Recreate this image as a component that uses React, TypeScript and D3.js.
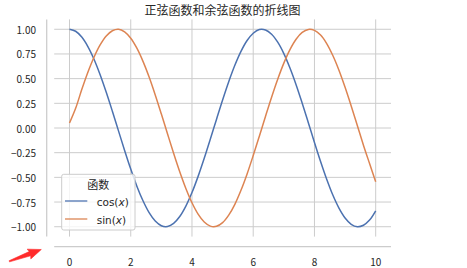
import React from "react";
import * as d3 from "d3";

const xValues = [0, 0.2, 0.4, 0.6, 0.8, 1, 1.2, 1.4, 1.6, 1.8, 2, 2.2, 2.4, 2.6, 2.8, 3, 3.2, 3.4, 3.6, 3.8, 4, 4.2, 4.4, 4.6, 4.8, 5, 5.2, 5.4, 5.6, 5.8, 6, 6.2, 6.4, 6.6, 6.8, 7, 7.2, 7.4, 7.6, 7.8, 8, 8.2, 8.4, 8.6, 8.8, 9, 9.2, 9.4, 9.6, 9.8, 10];
const cosValues = [1.0, 0.98, 0.921, 0.825, 0.697, 0.54, 0.362, 0.17, -0.029, -0.227, -0.416, -0.589, -0.737, -0.857, -0.942, -0.99, -0.998, -0.967, -0.897, -0.791, -0.654, -0.49, -0.307, -0.112, 0.087, 0.284, 0.469, 0.635, 0.776, 0.886, 0.96, 0.997, 0.993, 0.95, 0.869, 0.754, 0.608, 0.439, 0.251, 0.054, -0.146, -0.339, -0.519, -0.679, -0.811, -0.911, -0.975, -1.0, -0.985, -0.933, -0.839];
const sinValues = [0.05, 0.199, 0.389, 0.565, 0.717, 0.841, 0.932, 0.985, 1.0, 0.974, 0.909, 0.808, 0.675, 0.516, 0.335, 0.141, -0.058, -0.256, -0.443, -0.612, -0.757, -0.872, -0.952, -0.994, -0.996, -0.959, -0.883, -0.773, -0.631, -0.465, -0.279, -0.083, 0.117, 0.312, 0.494, 0.657, 0.794, 0.899, 0.968, 0.998, 0.989, 0.941, 0.855, 0.734, 0.585, 0.412, 0.223, 0.025, -0.174, -0.36, -0.544];
const xTicks = [0, 2, 4, 6, 8, 10];
const yTicks = [1, 0.75, 0.5, 0.25, 0, -0.25, -0.5, -0.75, -1];
const seriesNames = ["cos", "sin"];
const title = "正弦函数和余弦函数的折线图";
const legendTitle = "函数";

const W = 467;
const H = 268;
const colors = ["#4c72b0", "#dd8452"];
const grid = "#cccccc";
const textColor = "#262626";
const cjk = "'Noto Sans CJK SC', 'DejaVu Sans', sans-serif";

export default function App() {
  const x = d3.scaleLinear().domain([-0.5, 10.5]).range([54.2, 391]);
  const y = d3.scaleLinear().domain([-1.1, 1.1]).range([236.6, 19.4]);
  const [x0, x1] = x.range();
  const [yb, yt] = y.range();
  const leftSpineX = 46.7;
  const bottomSpineY = 246.7;

  const line = d3
    .line<[number, number]>()
    .x((d) => x(d[0]))
    .y((d) => y(d[1]))
    .curve(d3.curveCatmullRom);

  const series = [cosValues, sinValues].map((vals) =>
    xValues.map((xv, i) => [xv, vals[i]] as [number, number])
  );

  // arrow annotation geometry
  const T = [9.3, 261.3];
  const P = [41.3, 249.5];
  const dx = P[0] - T[0];
  const dy = P[1] - T[1];
  const L = Math.hypot(dx, dy);
  const u = [dx / L, dy / L];
  const n = [-u[1], u[0]];
  const pt = (s: number, w: number) =>
    `${T[0] + s * u[0] + w * n[0]},${T[1] + s * u[1] + w * n[1]}`;
  const hb = 22;
  const arrowPath = `M${pt(0, -0.6)} L${pt(hb, -2.2)} L${pt(hb - 1, -5.2)} L${pt(L, 0)} L${pt(hb - 1, 5.2)} L${pt(hb, 2.2)} L${pt(0, 0.6)} Z`;

  const legX = 61.7;
  const legY = 174.3;
  const legW = 73.3;
  const legH = 55.7;

  return (
    <svg width={W} height={H} style={{ position: "absolute", left: 0, top: 0, background: "#fff" }}>
      <rect x={0} y={0} width={W} height={H} fill="#fff" />
      {/* grid */}
      {xTicks.map((t) => (
        <line key={"gx" + t} x1={x(t)} x2={x(t)} y1={yt} y2={yb} stroke={grid} strokeWidth={1} />
      ))}
      {yTicks.map((t) => (
        <line key={"gy" + t} x1={x0} x2={x1} y1={y(t)} y2={y(t)} stroke={grid} strokeWidth={1} />
      ))}
      {/* spines */}
      <line x1={leftSpineX} x2={leftSpineX} y1={yt} y2={yb} stroke={grid} strokeWidth={1.25} />
      <line x1={x0} x2={x1} y1={bottomSpineY} y2={bottomSpineY} stroke={grid} strokeWidth={1.25} />
      {/* tick labels */}
      {yTicks.map((t) => (
        <text
          key={"ty" + t}
          x={36}
          y={y(t)}
          textAnchor="end"
          dominantBaseline="central"
          fontFamily={cjk}
          fontSize={10}
          fill={textColor}
        >
          {t < 0 ? "\u2212" + d3.format(".2f")(-t) : d3.format(".2f")(t)}
        </text>
      ))}
      {xTicks.map((t) => (
        <text
          key={"tx" + t}
          x={x(t)}
          y={261}
          textAnchor="middle"
          dominantBaseline="central"
          fontFamily={cjk}
          fontSize={10}
          fill={textColor}
        >
          {t}
        </text>
      ))}
      {/* lines */}
      {series.map((s, i) => (
        <path key={"s" + i} d={line(s) || ""} fill="none" stroke={colors[i]} strokeWidth={1.5} />
      ))}
      {/* title */}
      <text
        x={(x0 + x1) / 2}
        y={9.5}
        textAnchor="middle"
        dominantBaseline="central"
        fontFamily={cjk}
        fontSize={12}
        fill={textColor}
      >
        {title}
      </text>
      {/* legend */}
      <rect x={legX} y={legY} width={legW} height={legH} rx={2} fill="#fff" fillOpacity={0.8} stroke={grid} strokeWidth={1} />
      <text
        x={legX + legW / 2}
        y={184}
        textAnchor="middle"
        dominantBaseline="central"
        fontFamily={cjk}
        fontSize={11}
        fill={textColor}
      >
        {legendTitle}
      </text>
      {seriesNames.map((name, i) => (
        <g key={"lg" + i}>
          <line x1={65} x2={87.3} y1={201 + i * 18} y2={201 + i * 18} stroke={colors[i]} strokeWidth={1.5} opacity={0.85} />
          <text
            x={96.7}
            y={202 + i * 18}
            dominantBaseline="central"
            fontFamily="'DejaVu Sans', sans-serif"
            fontSize={10.5}
            fill={textColor}
          >
            {name}(<tspan fontStyle="italic">x</tspan>)
          </text>
        </g>
      ))}
      {/* arrow annotation */}
      <path d={arrowPath} fill="#ff2b2b" stroke="#ff2b2b" strokeWidth={0.6} strokeLinejoin="round" />
    </svg>
  );
}
